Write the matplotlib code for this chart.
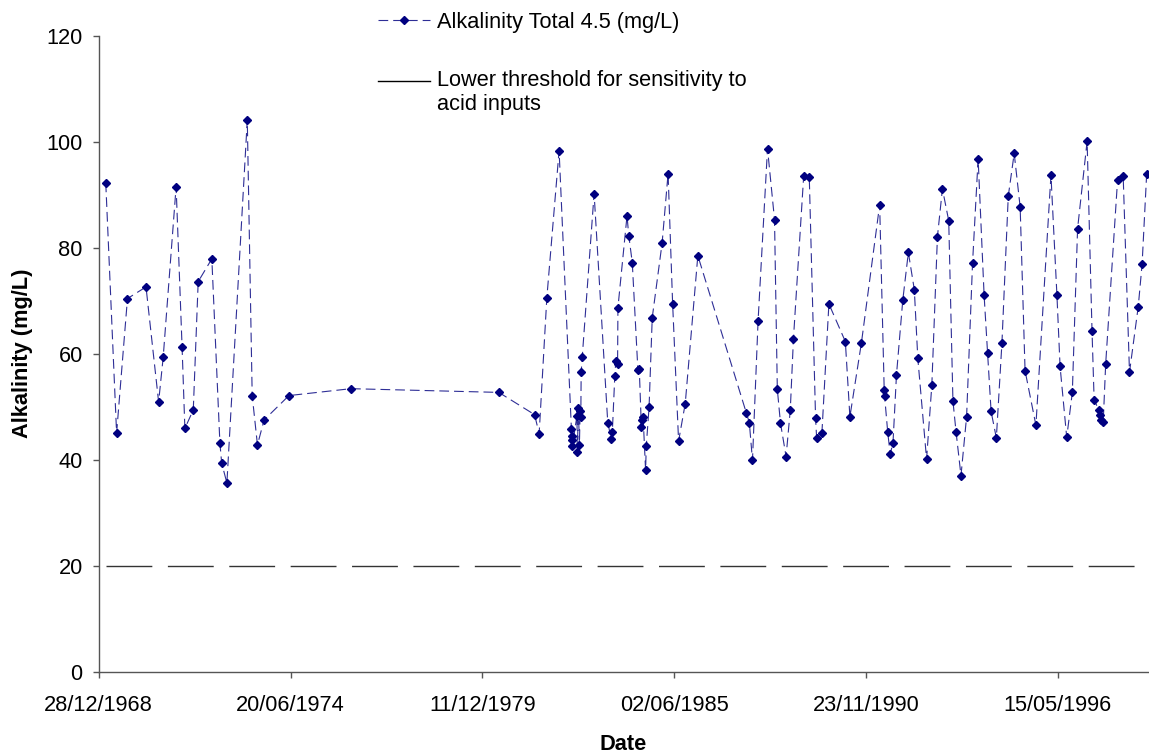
import matplotlib
matplotlib.use("Agg")
import matplotlib.pyplot as plt
import matplotlib.dates as mdates
from matplotlib.lines import Line2D
from matplotlib.legend_handler import HandlerLine2D
from datetime import datetime, timedelta

plt.rcParams['font.family'] = ['Liberation Sans', 'DejaVu Sans']
plt.rcParams['lines.scale_dashes'] = False

# Sampling dates as decimal years
sample_years = [
    1969.19, 1969.50, 1969.81, 1970.34, 1970.70, 1970.83, 1971.20, 1971.37, 1971.45,
    1971.69, 1971.83, 1972.22, 1972.45, 1972.50, 1972.65, 1973.23, 1973.37, 1973.52,
    1973.71, 1974.42, 1976.19, 1980.41, 1981.43, 1981.56, 1981.78, 1982.13,
    1982.48, 1982.49, 1982.50, 1982.51, 1982.64, 1982.65, 1982.68, 1982.71, 1982.73,
    1982.75, 1982.76, 1982.79, 1983.13, 1983.52, 1983.62, 1983.65, 1983.72, 1983.75,
    1983.80, 1983.81, 1984.07, 1984.12, 1984.22, 1984.38, 1984.42, 1984.48, 1984.50,
    1984.53, 1984.60, 1984.62, 1984.70, 1984.79, 1985.07, 1985.24, 1985.37, 1985.54,
    1985.73, 1986.09, 1987.47, 1987.56, 1987.65, 1987.81, 1988.08, 1988.28, 1988.36,
    1988.45, 1988.61, 1988.73, 1988.82, 1989.11, 1989.27, 1989.45, 1989.48, 1989.63,
    1989.83, 1990.30, 1990.43, 1990.76, 1991.28, 1991.41, 1991.42, 1991.51, 1991.58,
    1991.66, 1991.76, 1991.94, 1992.10, 1992.27, 1992.37, 1992.62, 1992.77, 1992.93,
    1993.07, 1993.25, 1993.37, 1993.46, 1993.60, 1993.76, 1993.93, 1994.09, 1994.26,
    1994.36, 1994.46, 1994.61, 1994.77, 1994.95, 1995.12, 1995.29, 1995.43, 1995.74,
    1996.17, 1996.34, 1996.43, 1996.62, 1996.78, 1996.93, 1997.20, 1997.34, 1997.40,
    1997.54, 1997.57, 1997.61, 1997.66, 1997.73, 1998.07, 1998.23, 1998.41, 1998.66,
    1998.77, 1998.90,
]

alkalinity = [
    92.3, 45.0, 70.4, 72.6, 50.9, 59.3, 91.5, 61.3, 45.9,
    49.4, 73.6, 77.9, 43.2, 39.4, 35.6, 104.1, 52.1, 42.8,
    47.5, 52.1, 53.4, 52.7, 48.5, 44.9, 70.6, 98.3,
    45.7, 44.5, 43.8, 42.6, 48.3, 41.4, 49.7, 42.8, 49.1,
    48.1, 56.5, 59.3, 90.2, 47.0, 43.9, 45.2, 55.7, 58.7,
    58.1, 68.7, 86.0, 82.3, 77.2, 57.0, 57.1, 46.1, 47.5,
    48.0, 38.0, 42.6, 50.0, 66.8, 80.9, 94.0, 69.4, 43.5,
    50.6, 78.5, 48.9, 47.0, 39.9, 66.2, 98.7, 85.3, 53.3,
    46.9, 40.6, 49.4, 62.8, 93.5, 93.3, 47.8, 44.1, 45.0,
    69.4, 62.3, 48.1, 62.1, 88.1, 53.1, 52.1, 45.2, 41.1,
    43.1, 56.0, 70.1, 79.1, 72.1, 59.1, 40.1, 54.1, 82.1,
    91.1, 85.1, 51.1, 45.2, 37.0, 48.1, 77.1, 96.8, 71.1,
    60.1, 49.1, 44.1, 62.1, 89.7, 97.8, 87.7, 56.8, 46.5,
    93.7, 71.1, 57.6, 44.2, 52.7, 83.6, 100.1, 64.3, 51.3,
    49.3, 48.5, 47.5, 47.2, 58.1, 92.8, 93.5, 56.5, 68.9,
    76.9, 93.9,
]

threshold_value = 20
series_label = "Alkalinity Total 4.5 (mg/L)"
threshold_label = "Lower threshold for sensitivity to\nacid inputs"
axis_start = datetime(1968, 12, 28)
tick_step_days = 2000
n_ticks = 6
y_ticks = [0, 20, 40, 60, 80, 100, 120]


def dec_to_date(y):
    yr = int(y)
    return datetime(yr, 1, 1) + timedelta(days=(y - yr) * 365.25)


class RaisedHandler(HandlerLine2D):
    """Legend handle aligned with the first line of a two-line label."""
    def __init__(self, dy, **kw):
        super().__init__(**kw)
        self.dy = dy

    def create_artists(self, legend, orig_handle, xdescent, ydescent, width,
                       height, fontsize, trans):
        return super().create_artists(legend, orig_handle, xdescent,
                                      ydescent - 2 * self.dy, width, height,
                                      fontsize, trans)


dates = [dec_to_date(y) for y in sample_years]
threshold = [threshold_value] * len(dates)

W, H = 1149, 753
fig = plt.figure(figsize=(W / 100, H / 100), dpi=100)
ax = fig.add_axes([98.7 / W, (H - 671.7) / H, (1148 - 98.7) / W, (671.7 - 35.7) / H])

FS = 15.7
navy = '#000080'
line_col = '#2e2e96'
ax.plot(dates, threshold, color='#333333', lw=1.0, linestyle=(0, (33, 11.2)))
ax.plot(dates, alkalinity, color=line_col, lw=0.8, linestyle=(0, (7, 3.6)),
        marker='D', markersize=4.3, markerfacecolor=navy, markeredgecolor=navy)

ax.set_ylim(0, 120)
ax.set_yticks(y_ticks)
ticks = [axis_start + timedelta(days=tick_step_days * k) for k in range(n_ticks)]
ax.set_xticks(ticks)
ax.xaxis.set_major_formatter(mdates.DateFormatter('%d/%m/%Y'))
ax.set_xlim(axis_start, dates[-1] + timedelta(days=14))

for s in ['top', 'right']:
    ax.spines[s].set_visible(False)
for s in ['left', 'bottom']:
    ax.spines[s].set_color('#555555')
    ax.spines[s].set_linewidth(1.0)
ax.tick_params(axis='both', direction='out', length=4.5, width=1.0, color='#555555',
               labelsize=FS, labelcolor='black')
ax.tick_params(axis='y', pad=7)
ax.tick_params(axis='x', pad=12)

ax.set_ylabel('Alkalinity (mg/L)', fontsize=FS, fontweight='bold', labelpad=10)
ax.set_xlabel('Date', fontsize=FS, fontweight='bold', labelpad=13)

h_series = Line2D([], [], color=line_col, lw=0.8, linestyle=(0, (7, 3.6)), marker='D',
                  markersize=4.3, markerfacecolor=navy, markeredgecolor=navy)
h_thresh = Line2D([], [], color='black', lw=1.0)
leg = fig.legend([h_series, h_thresh], [series_label, threshold_label], loc='upper left',
                 bbox_to_anchor=(378 / W, 1 - 12 / H), frameon=False, fontsize=FS,
                 handlelength=2.4, handletextpad=0.3, labelspacing=1.7,
                 borderpad=0, borderaxespad=0, markerscale=1.0,
                 handler_map={h_thresh: RaisedHandler(8.6)})

fig.savefig('out.png', dpi=100)
